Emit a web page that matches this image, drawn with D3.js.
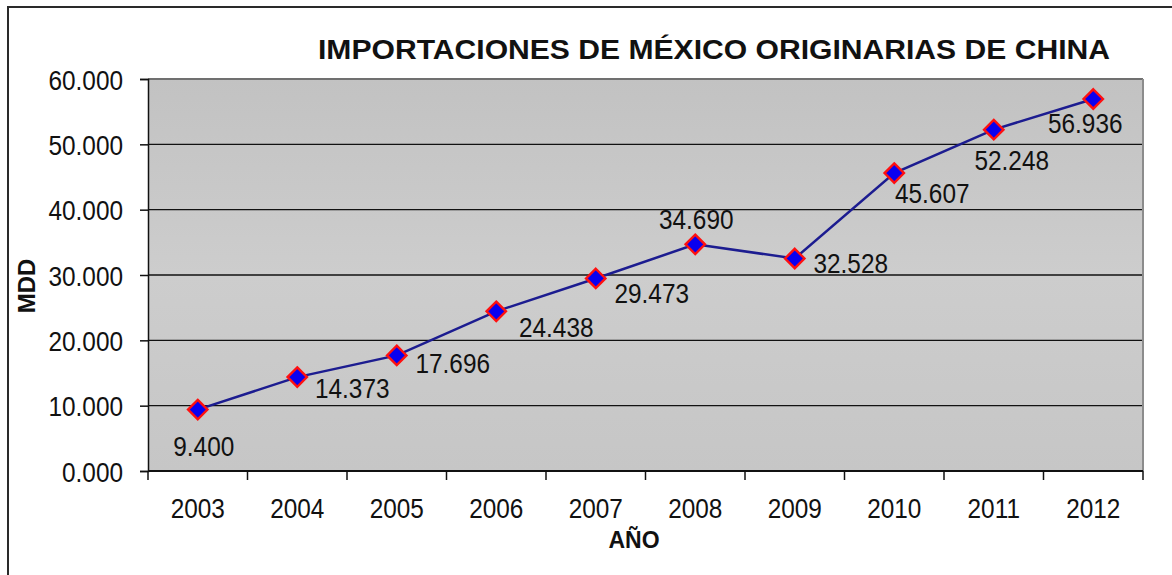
<!DOCTYPE html>
<html>
<head>
<meta charset="utf-8">
<script src="https://cdn.jsdelivr.net/npm/d3@7"></script>
<style>
  html, body { margin: 0; padding: 0; background: #ffffff; }
  svg { display: block; }
  text { font-family: "Liberation Sans", Arial, sans-serif; fill: #111; }
</style>
</head>
<body>
<script>
// Importaciones anuales (MDD)
const years = ["2003", "2004", "2005", "2006", "2007", "2008", "2009", "2010", "2011", "2012"];
const imports = [9.400, 14.373, 17.696, 24.438, 29.473, 34.690, 32.528, 45.607, 52.248, 56.936];
const yTicks = [0, 10, 20, 30, 40, 50, 60];

// Hand-placed label offsets relative to each marker (dx, dy of label centre / baseline)
const labelOffsets = [
  [6, 46], [55, 21], [56, 18], [60, 26], [56, 25],
  [1, -15], [56, 15], [38, 30], [18, 40], [-8, 34]
];

const W = 1172, H = 575;
const margin = { left: 148, right: W - 1143, top: 79, bottom: H - 471 };
const narrow = 0.87;

const svg = d3.select("body").append("svg")
  .attr("width", W).attr("height", H);

// outer frame
svg.append("rect")
  .attr("x", 8).attr("y", 7).attr("width", 1190).attr("height", 600)
  .attr("fill", "#fff").attr("stroke", "#2a2a2a").attr("stroke-width", 2);

const x = d3.scaleBand().domain(years).range([margin.left, W - margin.right]);
const y = d3.scaleLinear().domain([0, 60]).range([H - margin.bottom, margin.top]);

const defs = svg.append("defs");
const grad = defs.append("linearGradient").attr("id", "plotBg")
  .attr("x1", 0).attr("y1", 0).attr("x2", 0).attr("y2", 1);
grad.append("stop").attr("offset", "0%").attr("stop-color", "#c2c2c2");
grad.append("stop").attr("offset", "50%").attr("stop-color", "#cdcdcd");
grad.append("stop").attr("offset", "100%").attr("stop-color", "#c6c6c6");

// plot area
svg.append("rect")
  .attr("x", margin.left).attr("y", margin.top)
  .attr("width", x.range()[1] - margin.left)
  .attr("height", y(0) - y(60))
  .attr("fill", "url(#plotBg)");

// grid lines
svg.append("g").selectAll("line").data(yTicks.filter(d => d > 0 && d < 60)).join("line")
  .attr("x1", margin.left).attr("x2", x.range()[1])
  .attr("y1", d => y(d)).attr("y2", d => y(d))
  .attr("stroke", "#111").attr("stroke-width", 1.3);

// plot top and right edge
svg.append("line").attr("x1", margin.left).attr("x2", x.range()[1])
  .attr("y1", y(60)).attr("y2", y(60)).attr("stroke", "#707070").attr("stroke-width", 2);
svg.append("line").attr("x1", x.range()[1]).attr("x2", x.range()[1])
  .attr("y1", y(60)).attr("y2", y(0)).attr("stroke", "#8c8c8c").attr("stroke-width", 2);

// y axis
const yAxis = d3.axisLeft(y).tickValues(yTicks).tickSize(8).tickFormat(d3.format(".3f"));
const gy = svg.append("g").attr("transform", `translate(${margin.left},0)`).call(yAxis);
gy.select(".domain").attr("stroke", "#111").attr("stroke-width", 1.5);
gy.selectAll(".tick line").attr("stroke", "#111").attr("stroke-width", 1.5);
gy.selectAll(".tick text")
  .attr("x", null).attr("dy", null)
  .attr("transform", `translate(-25,10) scale(${narrow},1)`)
  .attr("text-anchor", "end")
  .style("font-size", "28px").style("font-family", "Liberation Sans, Arial, sans-serif")
  .attr("fill", "#111");

// x axis with ticks at category boundaries
const gx = svg.append("g").attr("transform", `translate(0,${y(0)})`);
gx.append("line").attr("x1", margin.left).attr("x2", x.range()[1])
  .attr("stroke", "#111").attr("stroke-width", 1.8);
const bounds = years.map(d => x(d)).concat([x.range()[1]]);
gx.selectAll(".bt").data(bounds).join("line").attr("class", "bt")
  .attr("x1", d => d).attr("x2", d => d).attr("y1", 0).attr("y2", 9)
  .attr("stroke", "#111").attr("stroke-width", 1.5);
gx.selectAll(".xl").data(years).join("text").attr("class", "xl")
  .attr("transform", d => `translate(${x(d) + x.bandwidth() / 2},47) scale(${narrow},1)`)
  .attr("text-anchor", "middle")
  .style("font-size", "28px")
  .text(d => d);

// line and markers
const cx = d => x(d) + x.bandwidth() / 2;
const pts = years.map((d, i) => [cx(d), y(imports[i])]);
svg.append("path").datum(pts)
  .attr("d", d3.line())
  .attr("fill", "none").attr("stroke", "#1c1c90").attr("stroke-width", 2.5);

const diamond = d3.symbol().type(d3.symbolDiamond2).size(240);
svg.append("g").selectAll("path").data(pts).join("path")
  .attr("d", diamond)
  .attr("transform", d => `translate(${d[0]},${d[1]})`)
  .attr("fill", "#0a00f0").attr("stroke", "#ff1010").attr("stroke-width", 2.4);

// data labels
svg.append("g").selectAll("text").data(imports).join("text")
  .attr("transform", (v, i) => `translate(${pts[i][0] + labelOffsets[i][0]},${pts[i][1] + labelOffsets[i][1]}) scale(${narrow},1)`)
  .attr("text-anchor", "middle")
  .style("font-size", "28px")
  .text(v => d3.format(".3f")(v));

// title
svg.append("text")
  .attr("x", 318).attr("y", 59)
  .attr("textLength", 792).attr("lengthAdjust", "spacingAndGlyphs")
  .style("font-size", "27px").style("font-weight", "bold")
  .text("IMPORTACIONES DE  MÉXICO  ORIGINARIAS  DE  CHINA");

// axis titles
svg.append("text")
  .attr("transform", `translate(35,${286}) rotate(-90)`)
  .attr("text-anchor", "middle")
  .style("font-size", "24px").style("font-weight", "bold")
  .text("MDD");

svg.append("text")
  .attr("x", 634).attr("y", 548)
  .attr("text-anchor", "middle")
  .style("font-size", "23px").style("font-weight", "bold")
  .text("AÑO");
</script>
</body>
</html>
